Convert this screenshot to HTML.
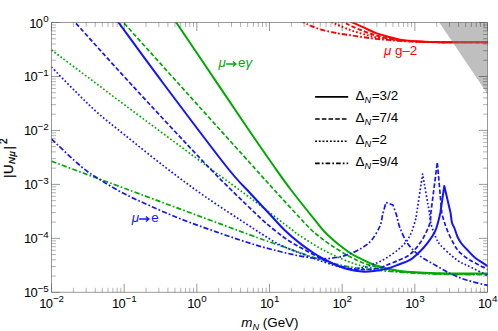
<!DOCTYPE html>
<html><head><meta charset="utf-8"><title>plot</title><style>
html,body{margin:0;padding:0;background:#fff}
#c{position:relative;width:498px;height:331px;overflow:hidden;background:#fff;font-family:"Liberation Sans",sans-serif;color:#000}
.t{position:absolute;white-space:nowrap;line-height:1}
.t sup{letter-spacing:-0.3px;margin-left:0.9px;font-size:9.8px;vertical-align:baseline;position:relative;top:-5.1px;line-height:0}
.t sub{font-size:10px;vertical-align:baseline;position:relative;top:3.2px;line-height:0}
</style></head><body><div id="c">
<svg width="498" height="331" viewBox="0 0 498 331" style="position:absolute;left:0;top:0">
<defs><clipPath id="cp"><rect x="51.50" y="22.50" width="436.00" height="269.80"/></clipPath></defs>
<g clip-path="url(#cp)" fill="none" stroke-linejoin="round">
<path d="M51.50 161.25 C63.75 165.79 91.92 176.22 125.00 188.50 C158.08 200.78 223.83 225.28 250.00 234.90 C276.17 244.52 272.67 242.87 282.00 246.20 C291.33 249.53 298.00 252.22 306.00 254.90 C314.00 257.58 322.67 260.28 330.00 262.30 C337.33 264.32 342.67 265.72 350.00 267.00 C357.33 268.28 366.00 269.17 374.00 270.00 C382.00 270.83 392.00 271.53 398.00 272.00 C404.00 272.47 404.67 272.48 410.00 272.80 C415.33 273.12 421.67 273.62 430.00 273.90 C438.33 274.18 450.33 274.37 460.00 274.50 C469.67 274.63 483.33 274.67 488.00 274.70" stroke="#00aa00" stroke-width="1.70" stroke-dasharray="5.2 2.1 1.7 2.1"/>
<path d="M51.50 50.00 C58.75 55.43 82.75 73.40 95.00 82.60 C107.25 91.80 106.67 91.53 125.00 105.20 C143.33 118.87 183.33 148.57 205.00 164.60 C226.67 180.63 243.33 192.70 255.00 201.40 C266.67 210.10 268.78 212.03 275.00 216.80 C281.22 221.57 288.13 226.83 292.30 230.00 C296.47 233.17 294.70 232.38 300.00 235.80 C305.30 239.22 316.07 246.22 324.10 250.50 C332.13 254.78 341.88 258.93 348.20 261.50 C354.52 264.07 357.70 264.77 362.00 265.90 C366.30 267.03 370.00 267.62 374.00 268.30 C378.00 268.98 382.00 269.50 386.00 270.00 C390.00 270.50 394.00 270.92 398.00 271.30 C402.00 271.68 404.67 271.95 410.00 272.30 C415.33 272.65 421.67 273.12 430.00 273.40 C438.33 273.68 450.33 273.90 460.00 274.00 C469.67 274.10 483.33 274.00 488.00 274.00" stroke="#00aa00" stroke-width="1.70" stroke-dasharray="1.7 2.1"/>
<path d="M115.50 13.60 C116.83 15.09 113.25 11.10 123.50 22.50 C133.75 33.90 155.92 58.58 177.00 82.00 C198.08 105.42 233.78 145.00 250.00 163.00 C266.22 181.00 265.97 180.83 274.30 190.00 C282.63 199.17 293.88 211.42 300.00 218.00 C306.12 224.58 308.00 226.58 311.00 229.50 C314.00 232.42 314.83 233.00 318.00 235.50 C321.17 238.00 324.97 241.12 330.00 244.50 C335.03 247.88 342.87 252.80 348.20 255.80 C353.53 258.80 357.70 260.75 362.00 262.50 C366.30 264.25 370.00 265.22 374.00 266.30 C378.00 267.38 382.00 268.23 386.00 269.00 C390.00 269.77 394.00 270.38 398.00 270.90 C402.00 271.42 404.67 271.70 410.00 272.10 C415.33 272.50 421.67 272.98 430.00 273.30 C438.33 273.62 450.33 273.88 460.00 274.00 C469.67 274.12 483.33 274.00 488.00 274.00" stroke="#00aa00" stroke-width="1.70" stroke-dasharray="4.4 2.2"/>
<path d="M168.25 10.65 C169.58 12.63 168.04 10.34 176.25 22.50 C184.46 34.66 205.21 65.38 217.50 83.60 C229.79 101.82 240.62 118.07 250.00 131.80 C259.38 145.53 266.90 156.30 273.75 166.00 C280.60 175.70 284.23 180.98 291.10 190.00 C297.98 199.02 308.90 212.60 315.00 220.10 C321.10 227.60 322.17 229.72 327.70 235.00 C333.23 240.28 342.48 247.75 348.20 251.80 C353.92 255.85 357.68 257.15 362.00 259.30 C366.32 261.45 370.08 263.20 374.10 264.70 C378.12 266.20 382.08 267.30 386.10 268.30 C390.12 269.30 394.22 270.10 398.20 270.70 C402.18 271.30 404.70 271.53 410.00 271.90 C415.30 272.27 421.67 272.63 430.00 272.90 C438.33 273.17 450.33 273.38 460.00 273.50 C469.67 273.62 483.33 273.58 488.00 273.60" stroke="#00aa00" stroke-width="2.00"/>
<path d="M51.50 139.00 C56.46 143.60 73.00 159.72 81.25 166.60 C89.50 173.48 93.71 175.72 101.00 180.30 C108.29 184.88 116.83 189.85 125.00 194.10 C133.17 198.35 140.83 201.70 150.00 205.80 C159.17 209.90 168.33 214.13 180.00 218.70 C191.67 223.27 207.50 228.85 220.00 233.20 C232.50 237.55 245.15 241.78 255.00 244.80 C264.85 247.82 272.07 249.52 279.10 251.30 C286.13 253.08 291.72 254.38 297.20 255.50 C302.68 256.62 307.53 257.45 312.00 258.00 C316.47 258.55 319.98 258.88 324.00 258.80 C328.02 258.72 332.07 258.20 336.10 257.50 C340.13 256.80 343.88 256.22 348.20 254.60 C352.52 252.98 358.08 250.23 362.00 247.80 C365.92 245.37 368.70 243.63 371.70 240.00 C374.70 236.37 378.20 230.17 380.00 226.00 C381.80 221.83 382.08 216.83 382.50 215.00 C383.08 212.92 385.42 204.58 386.00 202.50 C387.17 202.92 391.83 204.58 393.00 205.00 C393.58 206.67 395.92 213.33 396.50 215.00 C397.08 217.17 398.08 223.17 400.00 228.00 C401.92 232.83 404.67 239.33 408.00 244.00 C411.33 248.67 415.38 252.43 420.00 256.00 C424.62 259.57 430.48 262.40 435.70 265.40 C440.92 268.40 446.08 271.53 451.30 274.00 C456.52 276.47 460.93 278.30 467.00 280.20 C473.07 282.10 484.25 284.53 487.70 285.40" stroke="#1414ff" stroke-width="1.70" stroke-dasharray="5.2 2.1 1.7 2.1"/>
<path d="M51.50 67.00 C55.42 71.00 67.28 83.33 75.00 91.00 C82.72 98.67 89.47 105.63 97.80 113.00 C106.13 120.37 113.80 126.20 125.00 135.20 C136.20 144.20 151.67 156.78 165.00 167.00 C178.33 177.22 190.83 186.62 205.00 196.50 C219.17 206.38 240.27 219.88 250.00 226.30 C259.73 232.72 258.40 231.92 263.40 235.00 C268.40 238.08 272.90 241.38 280.00 244.80 C287.10 248.22 298.67 252.63 306.00 255.50 C313.33 258.37 318.33 260.08 324.00 262.00 C329.67 263.92 335.33 265.85 340.00 267.00 C344.67 268.15 348.33 268.77 352.00 268.90 C355.67 269.03 358.32 268.60 362.00 267.80 C365.68 267.00 370.08 265.72 374.10 264.10 C378.12 262.48 382.08 260.52 386.10 258.10 C390.12 255.68 394.78 252.42 398.20 249.60 C401.62 246.78 404.30 244.30 406.60 241.20 C408.90 238.10 410.43 234.87 412.00 231.00 C413.57 227.13 415.33 220.17 416.00 218.00 C417.10 210.67 421.50 181.33 422.60 174.00 C423.75 180.50 428.35 206.50 429.50 213.00 C429.75 214.83 429.97 220.00 431.00 224.00 C432.03 228.00 434.13 233.50 435.70 237.00 C437.27 240.50 437.80 241.93 440.40 245.00 C443.00 248.07 448.17 252.65 451.30 255.40 C454.43 258.15 456.58 259.83 459.20 261.50 C461.82 263.17 462.25 263.07 467.00 265.40 C471.75 267.73 484.25 273.82 487.70 275.50" stroke="#1414ff" stroke-width="1.70" stroke-dasharray="1.7 2.1"/>
<path d="M67.25 13.66 C68.58 15.13 64.79 10.94 75.25 22.50 C85.71 34.06 107.96 59.08 130.00 83.00 C152.04 106.92 186.67 144.35 207.50 166.00 C228.33 187.65 243.87 202.23 255.00 212.90 C266.13 223.57 268.47 225.23 274.30 230.00 C280.13 234.77 284.72 238.08 290.00 241.50 C295.28 244.92 300.33 247.42 306.00 250.50 C311.67 253.58 318.33 257.42 324.00 260.00 C329.67 262.58 334.83 264.45 340.00 266.00 C345.17 267.55 350.33 268.72 355.00 269.30 C359.67 269.88 363.82 269.77 368.00 269.50 C372.18 269.23 377.08 268.40 380.10 267.70 C383.12 267.00 383.08 266.50 386.10 265.30 C389.12 264.10 394.22 262.30 398.20 260.50 C402.18 258.70 406.37 257.42 410.00 254.50 C413.63 251.58 417.28 246.75 420.00 243.00 C422.72 239.25 424.60 235.50 426.30 232.00 C428.00 228.50 429.48 224.83 430.20 222.00 C430.92 219.17 430.53 216.17 430.60 215.00 C431.72 206.23 436.18 171.17 437.30 162.40 C438.05 170.83 441.05 204.57 441.80 213.00 C442.22 214.50 443.20 218.67 444.30 222.00 C445.40 225.33 446.72 229.17 448.40 233.00 C450.08 236.83 452.60 241.87 454.40 245.00 C456.20 248.13 457.10 249.60 459.20 251.80 C461.30 254.00 464.40 256.37 467.00 258.20 C469.60 260.03 471.35 260.88 474.80 262.80 C478.25 264.72 485.55 268.55 487.70 269.70" stroke="#1414ff" stroke-width="1.70" stroke-dasharray="4.4 2.2"/>
<path d="M110.50 11.62 C111.83 13.44 109.75 10.60 118.50 22.50 C127.25 34.40 145.08 59.08 163.00 83.00 C180.92 106.92 211.50 147.67 226.00 166.00 C240.50 184.33 242.67 184.92 250.00 193.00 C257.33 201.08 264.25 208.33 270.00 214.50 C275.75 220.67 279.50 225.18 284.50 230.00 C289.50 234.82 295.03 239.48 300.00 243.40 C304.97 247.32 310.28 250.88 314.30 253.50 C318.32 256.12 320.48 257.18 324.10 259.10 C327.72 261.02 331.98 263.30 336.00 265.00 C340.02 266.70 343.87 268.20 348.20 269.30 C352.53 270.40 357.70 271.30 362.00 271.60 C366.30 271.90 369.98 271.55 374.00 271.10 C378.02 270.65 382.07 269.97 386.10 268.90 C390.13 267.83 394.22 266.20 398.20 264.70 C402.18 263.20 406.37 262.10 410.00 259.90 C413.63 257.70 417.00 254.42 420.00 251.50 C423.00 248.58 425.50 245.73 428.00 242.40 C430.50 239.07 433.27 235.07 435.00 231.50 C436.73 227.93 437.52 224.08 438.40 221.00 C439.28 217.92 439.98 214.33 440.30 213.00 C440.97 208.50 443.63 190.50 444.30 186.00 C445.35 190.50 449.55 208.50 450.60 213.00 C450.83 214.63 451.37 220.30 452.00 222.80 C452.63 225.30 453.47 225.63 454.40 228.00 C455.33 230.37 456.42 234.42 457.60 237.00 C458.78 239.58 459.93 241.42 461.50 243.50 C463.07 245.58 464.78 247.17 467.00 249.50 C469.22 251.83 471.35 254.75 474.80 257.50 C478.25 260.25 485.55 264.58 487.70 266.00" stroke="#1414ff" stroke-width="2.00"/>
<path d="M290.00 15.50 C292.22 16.60 299.62 20.28 303.30 22.10 C306.98 23.92 308.80 25.07 312.10 26.40 C315.40 27.73 319.42 29.07 323.10 30.10 C326.78 31.13 331.38 32.00 334.20 32.60 C337.02 33.20 337.03 33.22 340.00 33.70 C342.97 34.18 347.98 34.90 352.00 35.50 C356.02 36.10 360.08 36.73 364.10 37.30 C368.12 37.87 372.08 38.47 376.10 38.90 C380.12 39.33 384.22 39.57 388.20 39.90 C392.18 40.23 394.70 40.58 400.00 40.90 C405.30 41.22 412.50 41.58 420.00 41.80 C427.50 42.02 433.67 42.12 445.00 42.20 C456.33 42.28 480.83 42.28 488.00 42.30" stroke="#ff0000" stroke-width="1.95" stroke-dasharray="5.2 2.1 1.7 2.1"/>
<path d="M322.00 15.50 C323.67 16.60 329.00 20.38 332.00 22.10 C335.00 23.82 336.67 24.37 340.00 25.80 C343.33 27.23 347.98 29.28 352.00 30.70 C356.02 32.12 360.08 33.20 364.10 34.30 C368.12 35.40 372.08 36.50 376.10 37.30 C380.12 38.10 384.22 38.57 388.20 39.10 C392.18 39.63 394.70 40.05 400.00 40.50 C405.30 40.95 412.50 41.52 420.00 41.80 C427.50 42.08 433.67 42.12 445.00 42.20 C456.33 42.28 480.83 42.28 488.00 42.30" stroke="#ff0000" stroke-width="1.95" stroke-dasharray="1.7 2.1"/>
<path d="M335.00 15.50 C336.53 16.62 341.37 20.38 344.20 22.20 C347.03 24.02 348.68 24.88 352.00 26.40 C355.32 27.92 360.08 29.78 364.10 31.30 C368.12 32.82 372.08 34.30 376.10 35.50 C380.12 36.70 384.22 37.70 388.20 38.50 C392.18 39.30 394.70 39.77 400.00 40.30 C405.30 40.83 412.50 41.38 420.00 41.70 C427.50 42.02 433.67 42.10 445.00 42.20 C456.33 42.30 480.83 42.28 488.00 42.30" stroke="#ff0000" stroke-width="1.95" stroke-dasharray="4.4 2.2"/>
<path d="M343.00 16.50 C344.50 17.45 348.48 20.33 352.00 22.20 C355.52 24.07 360.08 25.88 364.10 27.70 C368.12 29.52 372.08 31.60 376.10 33.10 C380.12 34.60 384.22 35.60 388.20 36.70 C392.18 37.80 396.03 38.97 400.00 39.70 C403.97 40.43 407.00 40.72 412.00 41.10 C417.00 41.48 423.67 41.80 430.00 42.00 C436.33 42.20 440.33 42.25 450.00 42.30 C459.67 42.35 481.67 42.30 488.00 42.30" stroke="#ff0000" stroke-width="2.00"/>
<path d="M439.30 22.50 L487.50 22.50 L487.50 93.92 Z" fill="#808080" fill-opacity="0.50" stroke="none"/>
</g>
<path d="M51.50 22.50 H487.50 V292.30 H51.50 Z M124.17 292.30 v-8.50 M124.17 22.50 v8.50 M196.83 292.30 v-8.50 M196.83 22.50 v8.50 M269.50 292.30 v-8.50 M269.50 22.50 v8.50 M342.17 292.30 v-8.50 M342.17 22.50 v8.50 M414.83 292.30 v-8.50 M414.83 22.50 v8.50 M51.50 238.34 h8.50 M487.50 238.34 h-8.50 M51.50 184.38 h8.50 M487.50 184.38 h-8.50 M51.50 130.42 h8.50 M487.50 130.42 h-8.50 M51.50 76.46 h8.50 M487.50 76.46 h-8.50" fill="none" stroke="#000" stroke-opacity="0.62" stroke-width="0.65"/>
<path d="M73.37 292.30 v-4.50 M73.37 22.50 v4.50 M86.17 292.30 v-4.50 M86.17 22.50 v4.50 M95.25 292.30 v-4.50 M95.25 22.50 v4.50 M102.29 292.30 v-4.50 M102.29 22.50 v4.50 M108.05 292.30 v-4.50 M108.05 22.50 v4.50 M112.91 292.30 v-4.50 M112.91 22.50 v4.50 M117.12 292.30 v-4.50 M117.12 22.50 v4.50 M120.84 292.30 v-4.50 M120.84 22.50 v4.50 M146.04 292.30 v-4.50 M146.04 22.50 v4.50 M158.84 292.30 v-4.50 M158.84 22.50 v4.50 M167.92 292.30 v-4.50 M167.92 22.50 v4.50 M174.96 292.30 v-4.50 M174.96 22.50 v4.50 M180.71 292.30 v-4.50 M180.71 22.50 v4.50 M185.58 292.30 v-4.50 M185.58 22.50 v4.50 M189.79 292.30 v-4.50 M189.79 22.50 v4.50 M193.51 292.30 v-4.50 M193.51 22.50 v4.50 M218.71 292.30 v-4.50 M218.71 22.50 v4.50 M231.50 292.30 v-4.50 M231.50 22.50 v4.50 M240.58 292.30 v-4.50 M240.58 22.50 v4.50 M247.63 292.30 v-4.50 M247.63 22.50 v4.50 M253.38 292.30 v-4.50 M253.38 22.50 v4.50 M258.24 292.30 v-4.50 M258.24 22.50 v4.50 M262.46 292.30 v-4.50 M262.46 22.50 v4.50 M266.17 292.30 v-4.50 M266.17 22.50 v4.50 M291.37 292.30 v-4.50 M291.37 22.50 v4.50 M304.17 292.30 v-4.50 M304.17 22.50 v4.50 M313.25 292.30 v-4.50 M313.25 22.50 v4.50 M320.29 292.30 v-4.50 M320.29 22.50 v4.50 M326.05 292.30 v-4.50 M326.05 22.50 v4.50 M330.91 292.30 v-4.50 M330.91 22.50 v4.50 M335.12 292.30 v-4.50 M335.12 22.50 v4.50 M338.84 292.30 v-4.50 M338.84 22.50 v4.50 M364.04 292.30 v-4.50 M364.04 22.50 v4.50 M376.84 292.30 v-4.50 M376.84 22.50 v4.50 M385.92 292.30 v-4.50 M385.92 22.50 v4.50 M392.96 292.30 v-4.50 M392.96 22.50 v4.50 M398.71 292.30 v-4.50 M398.71 22.50 v4.50 M403.58 292.30 v-4.50 M403.58 22.50 v4.50 M407.79 292.30 v-4.50 M407.79 22.50 v4.50 M411.51 292.30 v-4.50 M411.51 22.50 v4.50 M436.71 292.30 v-4.50 M436.71 22.50 v4.50 M449.50 292.30 v-4.50 M449.50 22.50 v4.50 M458.58 292.30 v-4.50 M458.58 22.50 v4.50 M465.63 292.30 v-4.50 M465.63 22.50 v4.50 M471.38 292.30 v-4.50 M471.38 22.50 v4.50 M476.24 292.30 v-4.50 M476.24 22.50 v4.50 M480.46 292.30 v-4.50 M480.46 22.50 v4.50 M484.17 292.30 v-4.50 M484.17 22.50 v4.50 M51.50 276.06 h4.50 M487.50 276.06 h-4.50 M51.50 266.55 h4.50 M487.50 266.55 h-4.50 M51.50 259.81 h4.50 M487.50 259.81 h-4.50 M51.50 254.58 h4.50 M487.50 254.58 h-4.50 M51.50 250.31 h4.50 M487.50 250.31 h-4.50 M51.50 246.70 h4.50 M487.50 246.70 h-4.50 M51.50 243.57 h4.50 M487.50 243.57 h-4.50 M51.50 240.81 h4.50 M487.50 240.81 h-4.50 M51.50 222.10 h4.50 M487.50 222.10 h-4.50 M51.50 212.59 h4.50 M487.50 212.59 h-4.50 M51.50 205.85 h4.50 M487.50 205.85 h-4.50 M51.50 200.62 h4.50 M487.50 200.62 h-4.50 M51.50 196.35 h4.50 M487.50 196.35 h-4.50 M51.50 192.74 h4.50 M487.50 192.74 h-4.50 M51.50 189.61 h4.50 M487.50 189.61 h-4.50 M51.50 186.85 h4.50 M487.50 186.85 h-4.50 M51.50 168.14 h4.50 M487.50 168.14 h-4.50 M51.50 158.63 h4.50 M487.50 158.63 h-4.50 M51.50 151.89 h4.50 M487.50 151.89 h-4.50 M51.50 146.66 h4.50 M487.50 146.66 h-4.50 M51.50 142.39 h4.50 M487.50 142.39 h-4.50 M51.50 138.78 h4.50 M487.50 138.78 h-4.50 M51.50 135.65 h4.50 M487.50 135.65 h-4.50 M51.50 132.89 h4.50 M487.50 132.89 h-4.50 M51.50 114.18 h4.50 M487.50 114.18 h-4.50 M51.50 104.67 h4.50 M487.50 104.67 h-4.50 M51.50 97.93 h4.50 M487.50 97.93 h-4.50 M51.50 92.70 h4.50 M487.50 92.70 h-4.50 M51.50 88.43 h4.50 M487.50 88.43 h-4.50 M51.50 84.82 h4.50 M487.50 84.82 h-4.50 M51.50 81.69 h4.50 M487.50 81.69 h-4.50 M51.50 78.93 h4.50 M487.50 78.93 h-4.50 M51.50 60.22 h4.50 M487.50 60.22 h-4.50 M51.50 50.71 h4.50 M487.50 50.71 h-4.50 M51.50 43.97 h4.50 M487.50 43.97 h-4.50 M51.50 38.74 h4.50 M487.50 38.74 h-4.50 M51.50 34.47 h4.50 M487.50 34.47 h-4.50 M51.50 30.86 h4.50 M487.50 30.86 h-4.50 M51.50 27.73 h4.50 M487.50 27.73 h-4.50 M51.50 24.97 h4.50 M487.50 24.97 h-4.50" fill="none" stroke="#000" stroke-opacity="0.55" stroke-width="0.55"/>
<path d="M51.50 292.30 v-8.50 M51.50 22.50 v8.50 M487.50 292.30 v-8.50 M487.50 22.50 v8.50 M51.50 292.30 h8.50 M487.50 292.30 h-8.50 M51.50 22.50 h8.50 M487.50 22.50 h-8.50" fill="none" stroke="#000" stroke-opacity="0.37" stroke-width="0.65"/>
<path d="M315.10 96.90 H348.20" stroke="#000" stroke-width="1.60" fill="none"/>
<path d="M315.10 119.05 H348.20" stroke="#000" stroke-width="1.60" fill="none" stroke-dasharray="4.6 2.1"/>
<path d="M315.10 141.20 H348.20" stroke="#000" stroke-width="1.60" fill="none" stroke-dasharray="1.9 1.8"/>
<path d="M315.10 163.35 H348.20" stroke="#000" stroke-width="1.60" fill="none" stroke-dasharray="4.6 2.1 1.7 2.1"/>
</svg>
<div class="t" style="right:449.60px;top:286.30px;font-size:13.00px;color:#000"><span style="letter-spacing:-0.7px">10</span><sup>−5</sup></div>
<div class="t" style="right:449.60px;top:232.34px;font-size:13.00px;color:#000"><span style="letter-spacing:-0.7px">10</span><sup>−4</sup></div>
<div class="t" style="right:449.60px;top:178.38px;font-size:13.00px;color:#000"><span style="letter-spacing:-0.7px">10</span><sup>−3</sup></div>
<div class="t" style="right:449.60px;top:124.42px;font-size:13.00px;color:#000"><span style="letter-spacing:-0.7px">10</span><sup>−2</sup></div>
<div class="t" style="right:449.60px;top:70.46px;font-size:13.00px;color:#000"><span style="letter-spacing:-0.7px">10</span><sup>−1</sup></div>
<div class="t" style="right:449.60px;top:16.50px;font-size:13.00px;color:#000"><span style="letter-spacing:-0.7px">10</span><sup>0</sup></div>
<div class="t" style="left:51.50px;transform:translateX(-50%);top:296.50px;font-size:13.00px;color:#000"><span style="letter-spacing:-0.7px">10</span><sup>−2</sup></div>
<div class="t" style="left:124.17px;transform:translateX(-50%);top:296.50px;font-size:13.00px;color:#000"><span style="letter-spacing:-0.7px">10</span><sup>−1</sup></div>
<div class="t" style="left:196.83px;transform:translateX(-50%);top:296.50px;font-size:13.00px;color:#000"><span style="letter-spacing:-0.7px">10</span><sup>0</sup></div>
<div class="t" style="left:269.50px;transform:translateX(-50%);top:296.50px;font-size:13.00px;color:#000"><span style="letter-spacing:-0.7px">10</span><sup>1</sup></div>
<div class="t" style="left:342.17px;transform:translateX(-50%);top:296.50px;font-size:13.00px;color:#000"><span style="letter-spacing:-0.7px">10</span><sup>2</sup></div>
<div class="t" style="left:414.83px;transform:translateX(-50%);top:296.50px;font-size:13.00px;color:#000"><span style="letter-spacing:-0.7px">10</span><sup>3</sup></div>
<div class="t" style="left:487.50px;transform:translateX(-50%);top:296.50px;font-size:13.00px;color:#000"><span style="letter-spacing:-0.7px">10</span><sup>4</sup></div>
<div class="t" style="left:269.90px;transform:translateX(-50%);top:316.26px;font-size:13.40px;color:#000"><i>m</i><sub style="font-size:9.2px;top:2.6px"><i>N</i></sub> (GeV)</div>
<div class="t" style="left:218.50px;top:56.16px;font-size:13.40px;color:#00aa00"><i>μ</i><svg width="10.7" height="8" viewBox="0 0 10.7 8" style="vertical-align:-1.1px;margin:0 1.1px 0 0.3px"><path d="M0.2 4H9.7M6.9 1.4L10.0 4L6.9 6.6" fill="none" stroke="currentColor" stroke-width="1.3" stroke-linejoin="miter"/></svg>e<i>γ</i></div>
<div class="t" style="left:131.80px;top:211.16px;font-size:13.40px;color:#1414ff"><i>μ</i><svg width="10.7" height="8" viewBox="0 0 10.7 8" style="vertical-align:-1.1px;margin:0 1.1px 0 0.3px"><path d="M0.2 4H9.7M6.9 1.4L10.0 4L6.9 6.6" fill="none" stroke="currentColor" stroke-width="1.3" stroke-linejoin="miter"/></svg>e</div>
<div class="t" style="left:383.90px;top:43.96px;font-size:13.40px;color:#ff0000"><i>μ</i> g–2</div>
<div class="t" style="left:355.60px;top:88.86px;font-size:13.40px;color:#000">Δ<sub style="font-size:9.2px;margin-right:0.6px"><i>N</i></sub>=3/2</div>
<div class="t" style="left:355.60px;top:111.01px;font-size:13.40px;color:#000">Δ<sub style="font-size:9.2px;margin-right:0.6px"><i>N</i></sub>=7/4</div>
<div class="t" style="left:355.60px;top:133.16px;font-size:13.40px;color:#000">Δ<sub style="font-size:9.2px;margin-right:0.6px"><i>N</i></sub>=2</div>
<div class="t" style="left:355.60px;top:155.31px;font-size:13.40px;color:#000">Δ<sub style="font-size:9.2px;margin-right:0.6px"><i>N</i></sub>=9/4</div>
<div class="t" style="left:12.80px;top:177.60px;font-size:13.00px;-webkit-text-stroke:0.3px #000;transform-origin:0 0;transform:rotate(-90deg) translate(0,-11.00px)">|<span style="margin-left:0.5px">U</span><span style="font-size:9.6px;position:relative;top:1.8px;letter-spacing:0.5px;margin-left:0.8px"><i>Nμ</i></span><span style="margin-left:1.2px">|</span><span style="font-size:10px;position:relative;top:-5.6px;margin-left:2.2px">2</span></div>
</div></body></html>
